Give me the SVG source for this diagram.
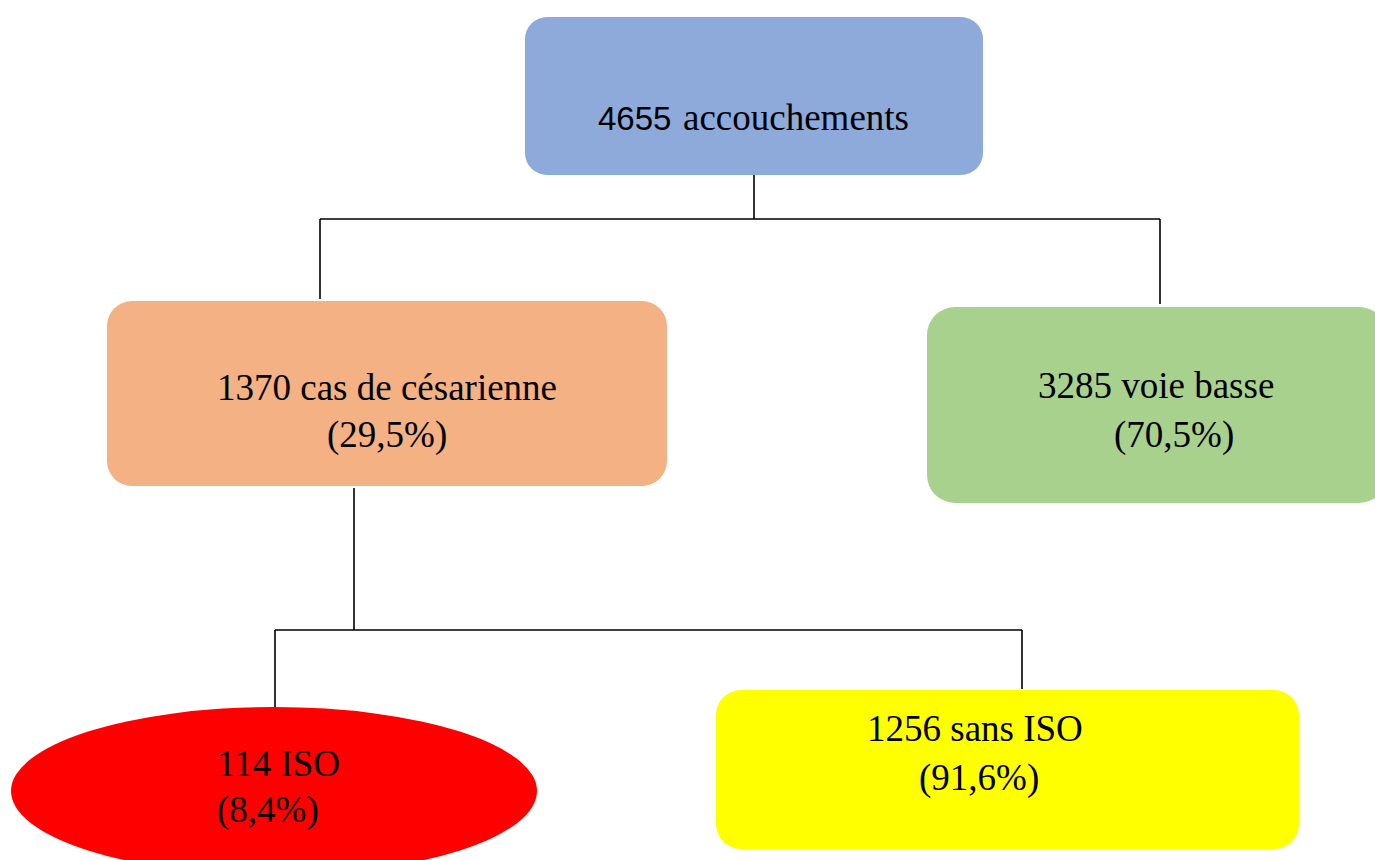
<svg xmlns="http://www.w3.org/2000/svg" width="1375" height="860" viewBox="0 0 1375 860">
<style>
.t{font-family:"Liberation Serif","Times New Roman",serif;font-size:37px;fill:#000}
.s{font-family:"Liberation Sans",Arial,sans-serif;font-size:33px;fill:#000}
.c{stroke:#000;stroke-width:1.6;fill:none}
</style>
<rect width="1375" height="860" fill="#fff"/>
<g id="connectors" class="c">
<path d="M754 175V219M320 219H1160M320 219V299M1160 219V304"/>
<path d="M354 488V630M275 630H1022M275 630V708M1022 630V689"/>
</g>
<g id="n-accouchements">
<rect x="525" y="17" width="458" height="158" rx="22" fill="#8eaadb"/>
<text class="s" x="598" y="130">4655</text>
<text class="t" x="683" y="130">accouchements</text>
</g>
<g id="n-cesarienne">
<rect x="107" y="301" width="560" height="185" rx="25" fill="#f4b183"/>
<text class="t" x="217" y="400">1370 cas de césarienne</text>
<text class="t" x="327" y="447">(29,5%)</text>
</g>
<g id="n-voie-basse">
<rect x="927" y="307" width="460" height="196" rx="28" fill="#a9d18e"/>
<text class="t" x="1038" y="398">3285 voie basse</text>
<text class="t" x="1114" y="447">(70,5%)</text>
</g>
<g id="n-iso">
<ellipse cx="274" cy="791" rx="263" ry="84" fill="#ff0000"/>
<text class="t" x="217" y="776">114 ISO</text>
<text class="t" x="217" y="822">(8,4%)</text>
</g>
<g id="n-sans-iso">
<rect x="716" y="690" width="583" height="159" rx="25" fill="#ffff00"/>
<text class="t" x="867" y="741">1256 sans ISO</text>
<text class="t" x="919" y="790">(91,6%)</text>
</g>
</svg>
